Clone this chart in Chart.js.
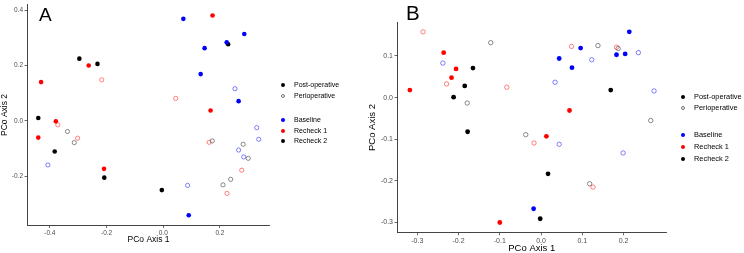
<!DOCTYPE html>
<html>
<head>
<meta charset="utf-8">
<script src="https://cdn.jsdelivr.net/npm/chart.js@4.4.1/dist/chart.umd.min.js"></script>
<style>
  body { margin: 0; background: #fff; width: 744px; height: 253px; position: relative; overflow: hidden;
         font-family: "Liberation Sans", Arial, sans-serif; }
  canvas { position: absolute; top: 0; }
  .panel { position: absolute; line-height: 1; color: #000; }
  .leg { position: absolute; color: #000; white-space: nowrap; }
  .dot { position: absolute; border-radius: 50%; box-sizing: border-box; }
</style>
</head>
<body>
<canvas id="chartA" width="372" height="253" style="left:0"></canvas>
<canvas id="chartB" width="378" height="253" style="left:366px"></canvas>
<div class="panel" style="left:39px;top:4.8px;font-size:19px">A</div>
<div class="panel" style="left:406px;top:3px;font-size:20.5px">B</div>
<script>
// shared legend / series info
const groupLabels = ["Baseline", "Recheck 1", "Recheck 2"];
const groupColors = ["#0000ff", "#ff0000", "#000000"];
const periColors = ["rgba(0,0,255,0.55)", "rgba(255,0,0,0.55)", "rgba(0,0,0,0.5)"];
const stageLabels = ["Post-operative", "Perioperative"];

// Panel A  [PCo1, PCo2]
const aPostBaseline = [[0.071, 0.369], [0.286, 0.314], [0.224, 0.284], [0.146, 0.263], [0.132, 0.169], [0.266, 0.071], [0.090, -0.342]];
const aPostRecheck1 = [[0.174, 0.381], [0.167, 0.037], [-0.263, 0.200], [-0.431, 0.140], [-0.379, -0.002], [-0.441, -0.061], [-0.209, -0.174]];
const aPostRecheck2 = [[0.229, 0.277], [-0.005, -0.251], [-0.296, 0.225], [-0.232, 0.206], [-0.441, 0.010], [-0.383, -0.111], [-0.208, -0.206]];
const aPeriBaseline = [[0.253, 0.116], [-0.407, -0.160], [0.266, -0.106], [0.284, -0.131], [0.086, -0.234], [0.330, -0.025], [0.337, -0.067]];
const aPeriRecheck1 = [[-0.217, 0.148], [0.044, 0.081], [-0.372, -0.015], [-0.302, -0.063], [0.162, -0.078], [0.277, -0.179], [0.225, -0.263]];
const aPeriRecheck2 = [[-0.338, -0.039], [-0.314, -0.079], [0.173, -0.073], [0.282, -0.085], [0.300, -0.136], [0.238, -0.212], [0.211, -0.232]];
const aXTicks = [-0.4, -0.2, 0.0, 0.2];
const aYTicks = [-0.2, 0.0, 0.2, 0.4];

// Panel B
const bPostBaseline = [[-0.018, -0.267], [0.044, 0.094], [0.214, 0.158], [0.096, 0.119], [0.183, 0.103], [0.204, 0.105], [0.075, 0.072]];
const bPostRecheck1 = [[-0.236, 0.108], [-0.206, 0.069], [-0.217, 0.048], [-0.318, 0.018], [0.013, -0.093], [-0.100, -0.300], [0.069, -0.031]];
const bPostRecheck2 = [[-0.165, 0.071], [-0.185, 0.028], [-0.212, 0.001], [-0.178, -0.082], [0.017, -0.183], [-0.002, -0.291], [0.169, 0.018]];
const bPeriBaseline = [[-0.238, 0.083], [0.034, 0.037], [0.044, -0.112], [0.236, 0.108], [0.123, 0.091], [0.274, 0.016], [0.199, -0.133]];
const bPeriRecheck1 = [[-0.286, 0.158], [-0.229, 0.033], [-0.083, 0.025], [-0.017, -0.109], [0.074, 0.123], [0.183, 0.121], [0.126, -0.215]];
const bPeriRecheck2 = [[-0.122, 0.132], [-0.179, -0.013], [-0.037, -0.089], [0.138, 0.125], [0.187, 0.118], [0.266, -0.055], [0.118, -0.207]];
const bXTicks = [-0.3, -0.2, -0.1, 0.0, 0.1, 0.2];
const bYTicks = [-0.3, -0.2, -0.1, 0.0, 0.1];

const FONT = "'Liberation Sans', Arial, sans-serif";

function toPoints(arr) {
  return arr.map(p => ({ x: p[0], y: p[1] }));
}

function axis(o) {
  return {
    type: "linear",
    min: o.min,
    max: o.max,
    afterBuildTicks: s => { s.ticks = o.ticks.map(v => ({ value: v })); },
    afterFit: s => {
      // fixed box sizes so the plot area lands where the original is
      if (o.horiz) { s.height = o.size; s.paddingLeft = 0; s.paddingRight = 0; }
      else { s.width = o.size; s.paddingTop = 0; s.paddingBottom = 0; }
    },
    grid: { drawOnChartArea: false, drawTicks: true, tickLength: 3, color: "#444", lineWidth: 0.8 },
    border: { display: true, color: "#444", width: 1 },
    ticks: {
      color: "#4d4d4d",
      font: { family: FONT, size: o.tickSize },
      padding: o.tickPad,
      autoSkip: false,
      maxRotation: 0,
      callback: v => v.toFixed(1)
    },
    title: {
      display: true,
      text: o.title,
      color: "#000",
      font: { family: FONT, size: o.titleSize, lineHeight: 1 },
      padding: o.titlePad
    }
  };
}

function makePanel(id, post, peri, p) {
  const datasets = [];
  post.forEach((pts, i) => datasets.push({
    label: stageLabels[0] + " " + groupLabels[i],
    data: toPoints(pts),
    pointRadius: p.r,
    pointBackgroundColor: groupColors[i],
    pointBorderWidth: 0
  }));
  peri.forEach((pts, i) => datasets.push({
    label: stageLabels[1] + " " + groupLabels[i],
    data: toPoints(pts),
    pointRadius: p.r - 0.2,
    pointBackgroundColor: "rgba(0,0,0,0)",
    pointBorderColor: periColors[i],
    pointBorderWidth: 0.9
  }));

  return new Chart(document.getElementById(id), {
    type: "scatter",
    data: { datasets },
    options: {
      responsive: false,
      animation: false,
      layout: { padding: p.pad },
      plugins: { legend: { display: false }, tooltip: { enabled: false } },
      scales: { x: p.x, y: p.y }
    }
  });
}

function legend(dotX, textX, rows, fs) {
  rows.forEach(r => {
    const d = document.createElement("div");
    d.className = "dot";
    const dia = 4.4;
    d.style.width = dia + "px";
    d.style.height = dia + "px";
    d.style.left = (dotX - dia / 2) + "px";
    d.style.top = (r.y - dia / 2) + "px";
    if (r.open) d.style.border = "0.9px solid " + r.color;
    else d.style.background = r.color;
    document.body.appendChild(d);

    const t = document.createElement("div");
    t.className = "leg";
    t.textContent = r.label;
    t.style.fontSize = fs + "px";
    t.style.lineHeight = "12px";
    t.style.left = textX + "px";
    t.style.top = (r.y - 6) + "px";
    document.body.appendChild(t);
  });
}

function legendRows(ys) {
  return [
    { y: ys[0], label: stageLabels[0], color: "#000" },
    { y: ys[1], label: stageLabels[1], color: "rgba(0,0,0,0.55)", open: true },
    { y: ys[2], label: groupLabels[0], color: groupColors[0] },
    { y: ys[3], label: groupLabels[1], color: groupColors[1] },
    { y: ys[4], label: groupLabels[2], color: groupColors[2] }
  ];
}

makePanel("chartA",
  [aPostBaseline, aPostRecheck1, aPostRecheck2],
  [aPeriBaseline, aPeriRecheck1, aPeriRecheck2],
  {
    r: 2.3,
    pad: { left: 0, top: 0.5, right: 102.5, bottom: 0 },
    x: axis({ min: -0.479, max: 0.375, ticks: aXTicks, horiz: true, size: 28, tickSize: 6.5, tickPad: 1,
              title: "PCo Axis 1", titleSize: 8.5, titlePad: { top: 0, bottom: 9.5 } }),
    y: axis({ min: -0.3774, max: 0.4196, ticks: aYTicks, horiz: false, size: 27.5, tickSize: 6.5, tickPad: 1.5,
              title: "PCo Axis 2", titleSize: 8.5, titlePad: { top: 0.5, bottom: 0 } })
  });

makePanel("chartB",
  [bPostBaseline, bPostRecheck1, bPostRecheck2],
  [bPeriBaseline, bPeriRecheck1, bPeriRecheck2],
  {
    r: 2.4,
    pad: { left: 0, top: 22.7, right: 78, bottom: 0 },
    x: axis({ min: -0.348, max: 0.303, ticks: bXTicks, horiz: true, size: 20.7, tickSize: 7, tickPad: 1.4,
              title: "PCo Axis 1", titleSize: 9.5, titlePad: { top: 0, bottom: 0.3 } }),
    y: axis({ min: -0.3236, max: 0.180, ticks: bYTicks, horiz: false, size: 31.5, tickSize: 7, tickPad: 1.5,
              title: "PCo Axis 2", titleSize: 9.5, titlePad: { top: 1.75, bottom: 0 } })
  });

legend(283.3, 294, legendRows([85, 96, 120, 130.7, 141.3]), 7);
legend(683.3, 694, legendRows([96.7, 108.3, 135, 147, 159]), 7.4);
</script>
</body>
</html>
